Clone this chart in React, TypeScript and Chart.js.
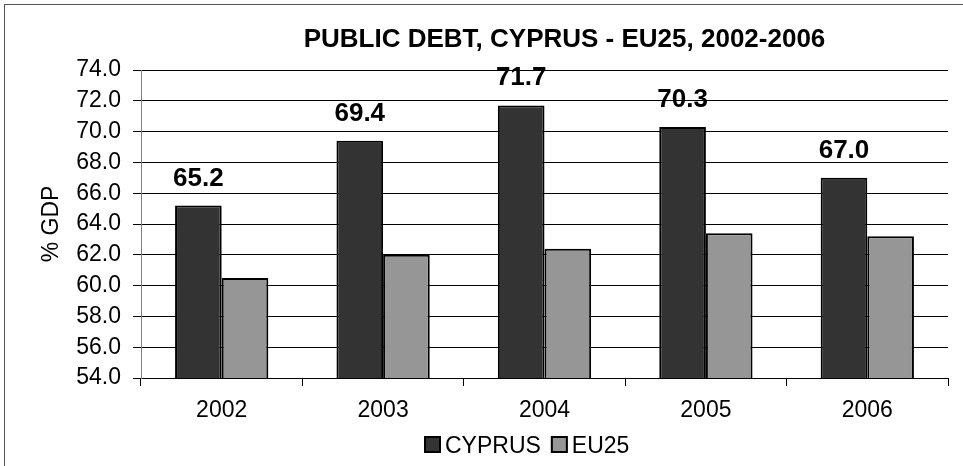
import React, { useEffect, useRef } from "react";
import { Chart, registerables } from "chart.js";

Chart.register(...registerables);

const categories = ["2002", "2003", "2004", "2005", "2006"];
const cyprus = [65.2, 69.4, 71.7, 70.3, 67.0];
const eu25 = [60.5, 62.0, 62.4, 63.4, 63.2];
const seriesNames = ["CYPRUS", "EU25"];
const titleText = "PUBLIC DEBT, CYPRUS - EU25, 2002-2006";
const yTitle = "% GDP";

const FONT = "'Liberation Sans', Arial, sans-serif";

const framePlugin = {
  id: "frame",
  beforeDraw(chart: any) {
    const ctx = chart.ctx;
    ctx.save();
    ctx.fillStyle = "#fff";
    ctx.fillRect(0, 0, chart.width, chart.height);
    ctx.strokeStyle = "#555";
    ctx.lineWidth = 1;
    ctx.strokeRect(4.5, 4.5, 1200, 1200);
    ctx.restore();
  },
};

const overlayPlugin = {
  id: "overlay",
  afterDraw(chart: any) {
    const ctx = chart.ctx;
    const area = chart.chartArea;
    ctx.save();
    // title
    ctx.fillStyle = "#000";
    ctx.font = `bold 26px ${FONT}`;
    ctx.textAlign = "center";
    ctx.textBaseline = "alphabetic";
    ctx.fillText(titleText, (area.left + area.right) / 2 + 20, 47);

    // data labels on first dataset
    const meta = chart.getDatasetMeta(0);
    ctx.font = `bold 26px ${FONT}`;
    meta.data.forEach((bar: any, i: number) => {
      const v = chart.data.datasets[0].data[i] as number;
      ctx.fillText(v.toFixed(1), bar.x, bar.y - 20);
    });

    // legend
    ctx.font = `23px ${FONT}`;
    ctx.textAlign = "left";
    let x = 424;
    const baseline = 453;
    const box = 17;
    chart.data.datasets.forEach((ds: any) => {
      ctx.fillStyle = ds.backgroundColor;
      ctx.fillRect(x, baseline - box, box, box);
      ctx.strokeStyle = "#000";
      ctx.lineWidth = 2;
      ctx.strokeRect(x + 1, baseline - box + 1, box - 2, box - 2);
      x += box + 4;
      ctx.fillStyle = "#000";
      ctx.fillText(ds.label, x, baseline);
      x += ctx.measureText(ds.label).width + 10;
    });
    ctx.restore();
  },
};

export default function App() {
  const ref = useRef<HTMLCanvasElement | null>(null);
  useEffect(() => {
    if (!ref.current) return;
    Chart.defaults.font.family = FONT;
    const chart = new Chart(ref.current, {
      type: "bar",
      data: {
        labels: categories,
        datasets: [
          {
            label: seriesNames[0],
            data: cyprus,
            backgroundColor: "#333333",
            borderColor: "#000",
            borderWidth: 2,
            borderSkipped: false,
            categoryPercentage: 0.578,
            barPercentage: 1.0,
          },
          {
            label: seriesNames[1],
            data: eu25,
            backgroundColor: "#969696",
            borderColor: "#000",
            borderWidth: 2,
            borderSkipped: false,
            categoryPercentage: 0.578,
            barPercentage: 1.0,
          },
        ],
      },
      options: {
        responsive: false,
        animation: false,
        devicePixelRatio: 1,
        layout: { padding: { left: 0, right: 15, top: 70, bottom: 0 } },
        plugins: {
          legend: { display: false },
          title: { display: false },
          tooltip: { enabled: false },
        },
        scales: {
          x: {
            offset: true,
            grid: {
              offset: true,
              drawOnChartArea: false,
              drawTicks: true,
              tickLength: 8,
              color: "#000",
            },
            border: { color: "#000", width: 1 },
            ticks: {
              color: "#000",
              font: { size: 23, family: FONT },
              padding: 11,
              maxRotation: 0,
            },
            afterFit: (s: any) => {
              s.height = 88;
            },
          },
          y: {
            min: 54,
            max: 74,
            grid: { color: "#000", tickLength: 8, drawTicks: true },
            border: { color: "#808080", width: 1 },
            ticks: {
              stepSize: 2,
              color: "#000",
              font: { size: 23, family: FONT },
              padding: 12,
              callback: (v: any) => Number(v).toFixed(1),
            },
            title: {
              display: true,
              text: yTitle,
              color: "#000",
              font: { size: 23, family: FONT },
              padding: { top: 38, bottom: 0 },
            },
            afterFit: (s: any) => {
              s.width = 141;
            },
          },
        },
      },
      plugins: [framePlugin, overlayPlugin],
    });
    return () => chart.destroy();
  }, []);
  return (
    <div style={{ position: "fixed", left: 0, top: 0, width: 963, height: 466, background: "#fff" }}>
      <canvas ref={ref} width={963} height={466} style={{ width: 963, height: 466 }} />
    </div>
  );
}
